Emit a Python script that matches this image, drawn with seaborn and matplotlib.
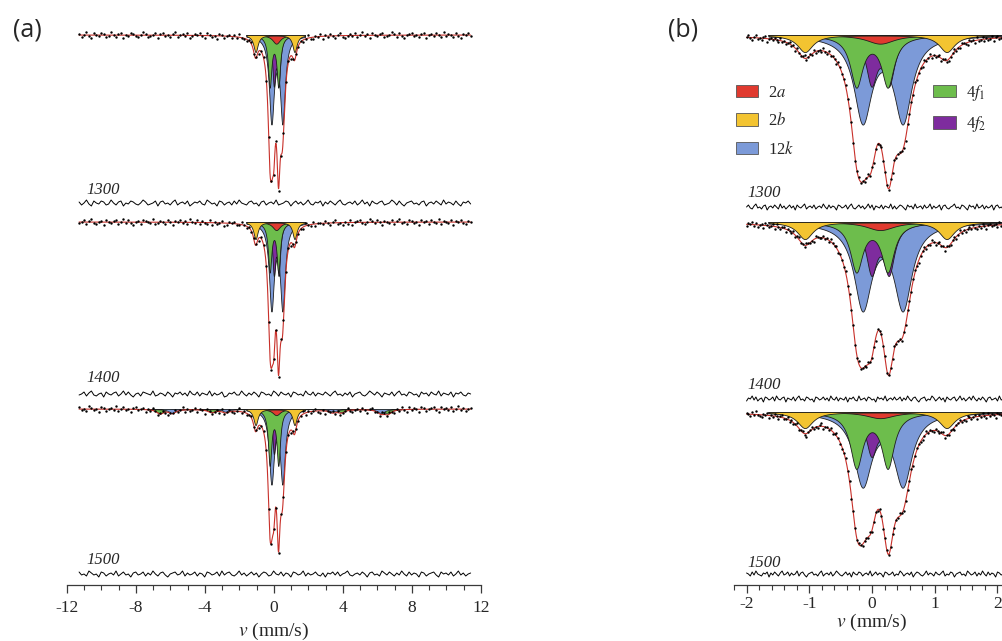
import numpy as np
import matplotlib
matplotlib.use("Agg")
import matplotlib.pyplot as plt
from matplotlib.patches import Patch
from matplotlib.ticker import MultipleLocator
import seaborn as sns

# ---------------- hyperfine parameters of the Fe sites (paramagnetic doublets) ----------------
SITE_LABELS = ["2$a$", "2$b$", "12$k$", "4$f_1$", "4$f_2$"]
SITE_COLORS = ["#e03a2f", "#f3c431", "#7c9ad8", "#6dbd4c", "#7e2c9e"]
ISOMER_SHIFT = [0.13, 0.06, 0.17, 0.00, 0.13]     # mm/s
QUAD_SPLIT = [0.10, 2.26, 0.64, 0.50, 0.28]       # mm/s
LINEWIDTH = [0.50, 0.30, 0.34, 0.24, 0.21]        # FWHM, mm/s

# absorption depth of a single line of each doublet, %
DEPTH_1300 = [0.45, 1.7, 8.4, 5.0, 4.6]
DEPTH_1400 = [0.42, 1.7, 8.4, 4.8, 4.8]
DEPTH_1500 = [0.32, 1.6, 7.1, 5.4, 4.0]

# weak magnetic (sextet) contribution in the wide-range spectrum of the 1500 sample
MAG_LINES_4F1 = [-6.6, -3.6, -0.8, 1.1, 3.9, 6.6]
MAG_DEPTH_4F1 = [0.45, 0.30, 0.15, 0.15, 0.30, 0.45]
MAG_LINES_12K = [-5.9, -2.8, -0.4, 0.9, 3.4, 6.2]
MAG_DEPTH_12K = [0.40, 0.27, 0.13, 0.13, 0.27, 0.40]
MAG_WIDTH = 0.5

SAMPLES = ["1300", "1400", "1500"]

# residuals (experiment - fit), in steps of 0.1 %
R_WIDE_1300 = [
    1, -2, 0, 3, -1, -3, 2, 0, -1, 2, 1, -2, -1, 3, 0, -2, 1, 2, -3, 0,
    -1, 2, 1, -1, -2, 0, 3, 1, -2, -1, 0, 2, -3, 1, 2, -1, 0, -2, 1, 3,
    -2, 0, 1, -1, 2, -3, -1, 1, 0, 2, -1, -2, 3, 1, -1, 0, -3, 2, 1, -2,
    0, 1, -2, 2, -1, 3, 0, -1, -2, 1, 2, -1, 0, -3, 1, 2, -2, 0, 1, -1,
    3, -2, -1, 0, 2, 1, -3, 0, 2, -1, 1, -2, 0, 3, -1, -2, 1, 0, 2, -3,
    1, -1, 2, 0, -2, 1, 3, -1, -2, 0, 1, -1, 2, -2, 0, 3, -1, 1, -3, 2,
    0, -1, 1, 2, -2, -1, 0, 3, 1, -2, 2, -1, -3, 0, 1, 2, -1, 0, -2, 1,
    2, -3, 0, 1, -1, 2, 0, -2, 3, -1, 1, 0, -2, 2, -1, -3, 1, 0, 2, -1]
R_WIDE_1400 = [
    -1, 0, 2, -2, 1, 3, -1, -2, 0, 1, -3, 2, 0, -1, 1, 2, -2, 0, 3, -1,
    2, -1, -3, 0, 1, -2, 2, 1, 0, -1, 3, -2, -1, 1, 0, -2, 2, 0, -3, 1,
    0, 2, -1, 1, -2, 3, 0, -1, 2, -2, 1, 0, -1, 3, -2, 1, -1, 0, 2, -3,
    -2, 1, 0, 2, -1, -1, 3, 0, -2, 1, -1, 2, 0, -3, 2, 1, -1, 0, -2, 3,
    1, -2, 2, 0, -1, 1, -3, 2, 1, -1, 0, -2, 3, 0, -1, 2, -2, 1, 0, -1,
    2, 0, -2, 1, 3, -1, 0, -2, 1, -1, 2, -3, 0, 1, 2, -1, -2, 0, 3, 1,
    -1, 2, 0, -3, 1, 0, -1, 2, -2, 1, 3, -1, 0, -2, 2, 1, -1, 0, -3, 2,
    0, 1, -2, 2, 0, -1, 3, -2, 1, 0, -1, 2, -3, 1, 0, 2, -1, -2, 1, 0]
R_WIDE_1500 = [
    2, -1, 0, -2, 3, 1, -1, 0, -3, 2, 1, -2, 0, 1, -1, 3, -2, 0, 2, -1,
    0, -3, 1, 2, -1, 0, 2, -2, 1, -1, 3, 0, -2, 1, 2, -1, -3, 0, 1, 2,
    -1, 0, 3, -2, 1, -1, 0, 2, -2, 1, 0, -3, 2, 1, -1, 0, 2, -2, 3, -1,
    1, 2, -1, -2, 0, 3, -1, 1, -2, 0, 2, -1, 1, -3, 0, 2, 1, -2, -1, 3,
    0, -1, 2, -2, 1, 0, -3, 2, 1, -1, 0, 3, -2, 1, -1, 0, 2, -1, -2, 1,
    -3, 1, 0, 2, -1, 2, -2, 0, 1, 3, -1, -2, 0, 1, -1, 2, 0, -3, 1, 2,
    -1, 0, -2, 3, 1, -1, 2, 0, -2, 1, -1, 3, 0, -2, 2, -1, 1, 0, -3, 2,
    1, -2, 0, 1, 2, -1, -3, 2, 0, 1, -1, 2, -2, 0, 3, -1, 1, -2, 0, 1]
R_NARROW_1300 = [
    0, 2, -1, -2, 1, 3, -1, 0, -2, 1, 2, -3, 0, 1, -1, 2, 0, -2, 3, -1,
    1, -2, 0, 2, -1, 1, -3, 2, 0, -1, 1, 3, -2, 0, 1, -1, 2, -2, 0, 1,
    -1, 3, 0, -2, 2, -1, 1, 0, -3, 2, 1, -1, 0, 2, -2, 1, 3, -1, -2, 0,
    2, -1, 1, -2, 0, 3, -1, 2, -3, 1, 0, -1, 2, -2, 1, 0, -1, 3, -2, 1,
    -2, 0, 2, 1, -1, -3, 2, 0, 1, -2, 3, -1, 0, 1, -2, 2, -1, 0, 3, -2,
    1, -1, 0, 2, -3, 1, 2, -1, -2, 0, 1, 3, -1, 0, -2, 2, 1, -1, -3, 2,
    0, 1, -2, 3, -1, 0, 2, -2, 1, -1, 0, 2, -3, 1, 2, -1, 0, -2, 1, 3]
R_NARROW_1400 = [
    -2, 1, 0, 3, -1, 2, -2, 0, 1, -3, 2, 1, -1, 0, 2, -2, 3, 0, -1, 1,
    2, -3, 1, 0, -1, 2, -2, 1, 3, -1, 0, -2, 2, 1, -1, 0, -3, 2, 1, -1,
    0, 2, -1, 1, -2, 3, 0, -1, 2, -2, 1, 0, -1, 2, -3, 1, 0, 2, -1, -2,
    3, -1, 0, 1, -2, 2, 1, -1, 0, -3, 2, 0, 1, -1, 3, -2, 0, 1, -1, 2,
    -1, 0, 2, -2, 1, -1, 3, 0, -2, 1, 2, -1, -3, 0, 1, 2, -2, 0, -1, 3,
    1, -2, 0, 2, -1, 1, -3, 2, 0, -1, 1, 2, -2, 0, 3, -1, 1, -2, 0, 2,
    -1, 3, 0, -2, 1, -1, 2, 0, -3, 1, 2, -1, 0, 1, -2, 3, -1, 0, 2, -1]
R_NARROW_1500 = [
    1, 0, -2, 2, -1, 3, 0, -1, -2, 1, 0, 2, -3, 1, -1, 2, 0, -2, 1, 3,
    -1, 0, 2, -2, 1, -1, 0, 3, -2, 1, 2, -1, -3, 0, 1, 2, -1, 0, -2, 1,
    3, -2, 0, 1, -1, 2, -2, 0, 3, 1, -1, -2, 0, 2, -1, 1, -3, 2, 0, -1,
    2, 1, -2, 0, 1, -1, 3, -2, 0, 2, -1, 1, 0, -3, 2, 1, -1, 0, 2, -2,
    0, -1, 3, 1, -2, 0, 1, -1, 2, -3, 0, 2, 1, -1, -2, 0, 3, -1, 1, 0,
    -2, 2, 0, -1, 1, 3, -2, 0, -1, 2, 1, -3, 0, 1, 2, -1, 0, -2, 3, 1,
    -1, 0, 2, -2, 1, -1, 3, 0, -2, 2, -1, 1, 0, -3, 2, 1, -1, 0, -2, 2]

RESID_STEP = 0.1

# ---------------- styling ----------------
sns.set_theme(style="ticks")
plt.rcParams.update({
    "font.family": ["Liberation Serif", "DejaVu Serif"],
    "mathtext.fontset": "stix",
    "axes.unicode_minus": False,
})
FIT_RED = "#c8302a"
EDGE = "#1e1e1e"
AXIS_GREY = "#3a3a3a"
DRAW_ORDER = [2, 4, 3, 0, 1]          # 12k, 4f2, 4f1, 2a, 2b (last on top)


def lorentz(v, centre, fwhm, depth):
    return depth / (1.0 + ((v - centre) / (0.5 * fwhm)) ** 2)


def doublet(v, k, depths):
    lo = ISOMER_SHIFT[k] - QUAD_SPLIT[k] / 2
    hi = ISOMER_SHIFT[k] + QUAD_SPLIT[k] / 2
    return lorentz(v, lo, LINEWIDTH[k], depths[k]) + lorentz(v, hi, LINEWIDTH[k], depths[k])


def sextet(v, lines, depths):
    return sum(lorentz(v, c, MAG_WIDTH, d) for c, d in zip(lines, depths))


def draw_spectrum(ax, v_range, resid, depths, base, res_base, window, magnetic=()):
    resid = np.asarray(resid, float) * RESID_STEP
    v_ch = np.linspace(v_range[0], v_range[1], len(resid))
    v_fine = np.linspace(v_range[0], v_range[1], 3000)

    parts_fine = [doublet(v_fine, k, depths) for k in range(5)]
    total_fine = np.sum(parts_fine, axis=0)
    total_ch = np.sum([doublet(v_ch, k, depths) for k in range(5)], axis=0)

    for k, lines, ldepths in magnetic:
        mag_fine = sextet(v_fine, lines, ldepths)
        total_fine = total_fine + mag_fine
        total_ch = total_ch + sextet(v_ch, lines, ldepths)
        sel = (v_fine > -7.4) & (v_fine < 7.4)
        ax.fill_between(v_fine[sel], base, base - mag_fine[sel], facecolor=SITE_COLORS[k],
                        edgecolor=EDGE, linewidth=0.5, zorder=1.5)

    sel = (v_fine >= window[0]) & (v_fine <= window[1])
    for z, k in enumerate(DRAW_ORDER):
        ax.fill_between(v_fine[sel], base, base - parts_fine[k][sel], facecolor=SITE_COLORS[k],
                        edgecolor=EDGE, linewidth=0.6, zorder=2 + 0.1 * z)

    sns.lineplot(x=v_fine, y=base - total_fine, ax=ax, color=FIT_RED, linewidth=0.8,
                 estimator=None, sort=False, zorder=4)
    sns.scatterplot(x=v_ch, y=base - total_ch + resid, ax=ax, color="black", s=3,
                    linewidth=0, zorder=5)
    sns.lineplot(x=v_ch, y=res_base + resid, ax=ax, color="black", linewidth=0.7,
                 estimator=None, sort=False, zorder=5)


fig = plt.figure(figsize=(10.03, 6.41), dpi=100)
ax_a = fig.add_axes([67 / 1003, 56 / 641, 414 / 1003, 560 / 641])
ax_b = fig.add_axes([734 / 1003, 56 / 641, 276 / 1003, 560 / 641])

wide_resid = [R_WIDE_1300, R_WIDE_1400, R_WIDE_1500]
narrow_resid = [R_NARROW_1300, R_NARROW_1400, R_NARROW_1500]
depth_sets = [DEPTH_1300, DEPTH_1400, DEPTH_1500]

# ---- (a) wide velocity range ----
a_base = [55.0, 36.3, 17.6]
a_res = [38.2, 19.1, 1.1]
a_lab = [39.5, 20.7, 2.5]
mag_1500 = [(3, MAG_LINES_4F1, MAG_DEPTH_4F1), (2, MAG_LINES_12K, MAG_DEPTH_12K)]
for i, name in enumerate(SAMPLES):
    draw_spectrum(ax_a, (-11.3, 11.4), wide_resid[i], depth_sets[i], a_base[i], a_res[i],
                  (-1.6, 1.8), magnetic=mag_1500 if name == "1500" else ())
    ax_a.text(-10.9, a_lab[i], name, fontsize=12, fontstyle="italic", va="center", ha="left")

# ---- (b) narrow velocity range ----
b_base = [55.0, 36.3, 17.3]
b_res = [37.8, 18.6, 1.1]
b_lab = [39.2, 20.0, 2.2]
for i, name in enumerate(SAMPLES):
    draw_spectrum(ax_b, (-2.0, 2.15), narrow_resid[i], depth_sets[i], b_base[i], b_res[i],
                  (-1.65, 2.2))
    ax_b.text(-1.99, b_lab[i], name, fontsize=12, fontstyle="italic", va="center", ha="left")

ax_a.set_xlim(-12, 12)
ax_b.set_xlim(-2.2, 2.2)
ax_a.xaxis.set_major_locator(MultipleLocator(4))
ax_a.xaxis.set_minor_locator(MultipleLocator(1))
ax_b.xaxis.set_major_locator(MultipleLocator(1))
ax_b.xaxis.set_minor_locator(MultipleLocator(0.2))

for ax, pad in ((ax_a, 5), (ax_b, 2)):
    ax.set_ylim(0, 56)
    ax.set_yticks([])
    ax.set_ylabel("")
    sns.despine(ax=ax, left=True)
    ax.spines["bottom"].set_color(AXIS_GREY)
    ax.spines["bottom"].set_linewidth(0.9)
    ax.tick_params(axis="x", which="major", direction="out", length=6, width=0.9,
                   color=AXIS_GREY, labelsize=12.5, pad=pad)
    ax.tick_params(axis="x", which="minor", direction="out", length=3.5, width=0.8,
                   color=AXIS_GREY)
    ax.set_facecolor("none")

ax_a.set_xlabel("$v$ (mm/s)", fontsize=14, labelpad=3)
ax_b.set_xlabel("$v$ (mm/s)", fontsize=14, labelpad=0)

# legend of the sites
handles = [Patch(facecolor=c, edgecolor="#555555", linewidth=0.6, label=l)
           for c, l in zip(SITE_COLORS, SITE_LABELS)]
ax_b.legend(handles=handles, ncol=2, loc="upper left", bbox_to_anchor=(736 / 1003, 1 - 83 / 641),
            bbox_transform=fig.transFigure, frameon=False, fontsize=12, handlelength=1.35,
            handleheight=0.75, handletextpad=0.6, columnspacing=8.3, labelspacing=0.68,
            borderpad=0, borderaxespad=0)

fig.text(27 / 1003, 1 - 30 / 641, "(a)", fontsize=18, family="Open Sans", ha="center", va="center")
fig.text(683 / 1003, 1 - 30 / 641, "(b)", fontsize=18, family="Open Sans", ha="center", va="center")

fig.savefig("out.png", dpi=100, facecolor="white")
